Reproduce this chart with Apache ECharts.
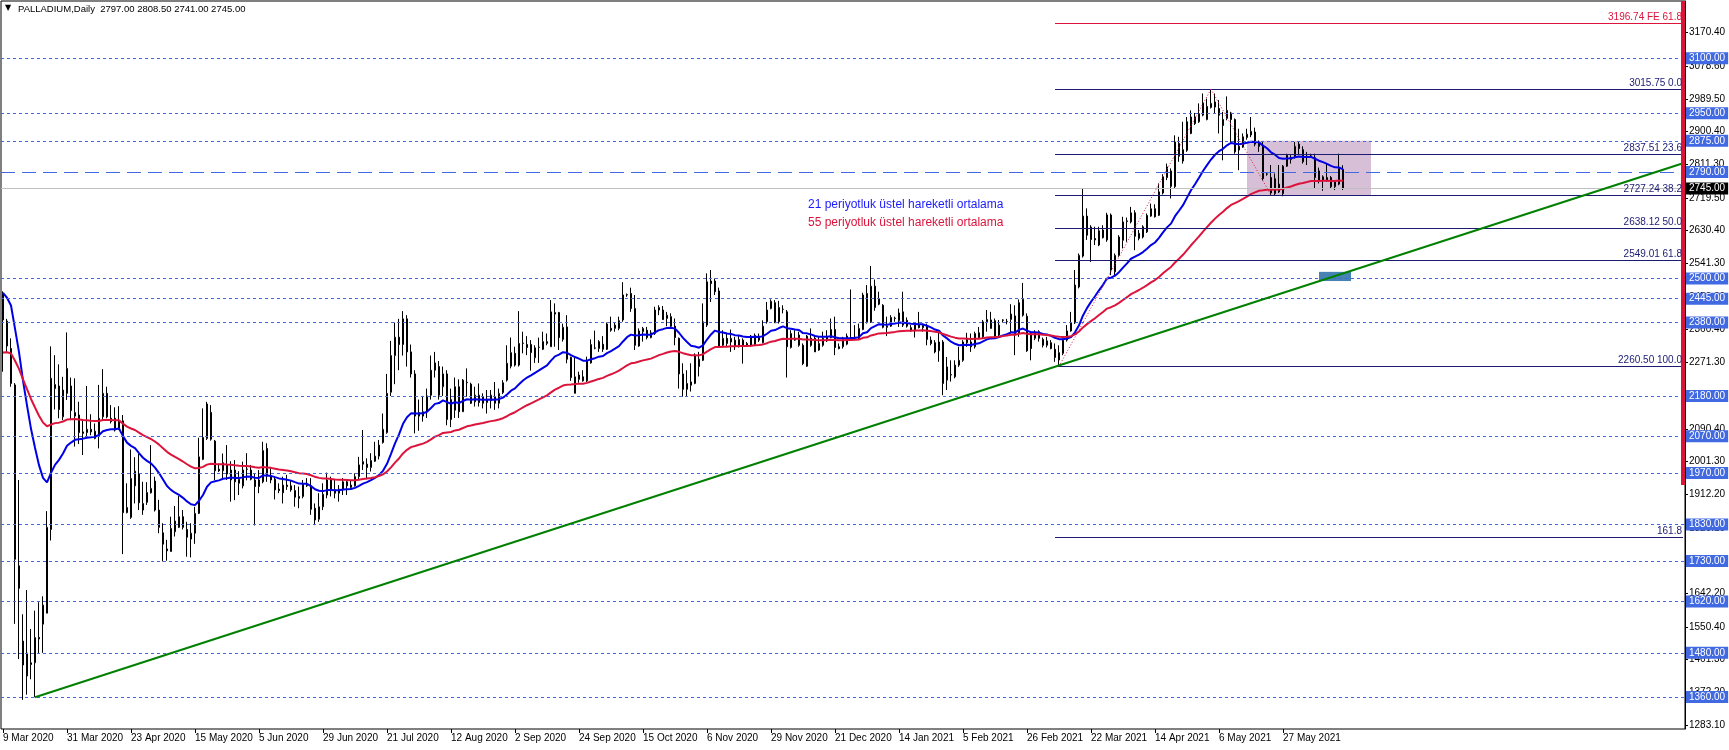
<!DOCTYPE html>
<html><head><meta charset="utf-8">
<script src="https://cdn.jsdelivr.net/npm/echarts@6/dist/echarts.min.js"></script>
<style>html,body{margin:0;padding:0;background:#fff}#c{width:1729px;height:750px}</style>
</head><body><div id="c"></div>
<script>
// ---------- DATA ----------
const dateLabels = ["9 Mar 2020","31 Mar 2020","23 Apr 2020","15 May 2020","5 Jun 2020","29 Jun 2020","21 Jul 2020","12 Aug 2020","2 Sep 2020","24 Sep 2020","15 Oct 2020","6 Nov 2020","29 Nov 2020","21 Dec 2020","14 Jan 2021","5 Feb 2021","26 Feb 2021","22 Mar 2021","14 Apr 2021","6 May 2021","27 May 2021"];
const opens = [2460,2384,2309,2210,1717,1512,1417,1448,1453,1522,1558,1588,1816,2200,2207,2123,2187,2207,2125,2128,
2082,2080,2089,2064,2073,2123,2187,2119,2119,2090,2112,1862,1849,1935,1967,1869,1890,1916,1948,1869,
1807,1763,1756,1810,1822,1851,1816,1790,1806,1860,2007,2064,2135,2057,1980,1976,1992,1951,1978,1942,
1935,1980,1978,1951,1933,1946,2037,1960,1953,1926,1916,1937,1935,1922,1906,1906,1935,1935,1874,1844,
1878,1910,1951,1924,1915,1924,1946,1937,1935,1960,1994,1994,1985,2002,2016,2053,2080,2190,2290,2340,
2320,2390,2300,2240,2125,2125,2137,2182,2250,2260,2205,2240,2170,2141,2205,2137,2216,2212,2164,2182,
2178,2162,2167,2178,2160,2189,2223,2261,2296,2264,2323,2320,2320,2284,2312,2307,2323,2314,2407,2407,
2334,2368,2285,2187,2225,2232,2221,2270,2310,2309,2321,2307,2364,2364,2364,2387,2455,2459,2418,2316,
2355,2359,2339,2350,2414,2414,2391,2396,2370,2337,2240,2198,2209,2214,2260,2277,2373,2493,2493,2466,
2318,2337,2327,2332,2314,2332,2316,2318,2320,2343,2325,2382,2418,2434,2382,2416,2409,2312,2332,2318,
2318,2261,2337,2337,2305,2318,2330,2339,2361,2314,2314,2321,2334,2339,2334,2361,2459,2382,2479,2445,
2427,2370,2370,2391,2385,2409,2386,2366,2357,2373,2366,2368,2332,2325,2303,2327,2223,2237,2232,2264,
2277,2337,2327,2314,2352,2341,2382,2387,2385,2346,2387,2382,2388,2398,2350,2443,2397,2350,2337,2355,
2334,2318,2325,2307,2278,2296,2332,2357,2379,2477,2561,2670,2640,2609,2591,2611,2605,2673,2518,2563,
2604,2655,2654,2679,2609,2613,2627,2670,2690,2672,2733,2804,2793,2750,2868,2820,2849,2895,2940,2927,
2945,2933,2966,2981,2963,2933,2936,2951,2933,2860,2858,2884,2891,2899,2866,2863,2784,2775,2731,2757,
2731,2806,2824,2830,2866,2851,2833,2833,2829,2793,2766,2775,2775,2750,2757,2797];
const highs = [2465,2390,2337,2215,1951,1585,1651,1545,1595,1618,1634,1866,2315,2291,2266,2232,2353,2230,2228,2164,
2114,2207,2130,2105,2210,2253,2205,2155,2149,2152,2128,1942,2034,2013,2022,1946,1945,2046,1960,1897,
1833,1788,1851,1880,1907,1869,1837,1833,1878,2066,2146,2164,2155,2060,1995,2023,2046,2002,2005,1975,
2001,2024,1992,1969,1978,2055,2051,1983,1960,1942,1960,1965,1951,1937,1933,1951,1956,1956,1887,1915,
1942,1971,1960,1951,1937,1956,1951,1951,1969,2014,2087,2010,2024,2055,2060,2132,2240,2330,2380,2390,
2411,2400,2320,2250,2170,2180,2200,2290,2300,2275,2260,2250,2200,2230,2225,2226,2255,2216,2205,2214,
2187,2196,2196,2218,2200,2223,2318,2339,2314,2411,2355,2343,2332,2318,2339,2355,2350,2441,2432,2409,
2377,2400,2287,2287,2246,2250,2287,2334,2358,2332,2343,2380,2396,2380,2396,2490,2459,2475,2455,2364,
2368,2368,2359,2423,2427,2425,2409,2405,2391,2339,2269,2250,2269,2296,2300,2432,2514,2523,2500,2475,
2359,2350,2361,2341,2343,2337,2327,2346,2350,2350,2386,2436,2443,2441,2439,2427,2414,2359,2359,2355,
2323,2346,2364,2343,2341,2355,2359,2391,2396,2323,2341,2350,2470,2373,2377,2461,2482,2534,2497,2464,
2430,2396,2400,2396,2418,2464,2394,2373,2377,2409,2377,2377,2342,2332,2352,2332,2286,2277,2277,2314,
2332,2352,2350,2355,2368,2387,2414,2409,2391,2387,2389,2390,2430,2427,2443,2488,2405,2355,2359,2359,
2339,2341,2332,2323,2318,2337,2373,2409,2523,2568,2745,2691,2645,2641,2641,2645,2679,2677,2568,2618,
2668,2666,2695,2686,2632,2645,2677,2704,2702,2759,2784,2813,2800,2890,2886,2927,2940,2958,2951,2977,
3004,2990,3015.75,3004,2986,2954,2996,2954,2936,2908,2895,2908,2940,2911,2876,2872,2790,2809,2786,2809,
2809,2840,2836,2872,2872,2860,2845,2840,2840,2802,2781,2813,2779,2768,2840,2808.5];
const lows = [2246,2300,2205,1559,1463,1352,1366,1408,1359,1479,1480,1588,1786,2143,2119,2114,2169,2114,2042,2049,
2019,2069,2073,2062,2037,2114,2119,2105,2083,2087,1749,1860,1845,1887,1869,1856,1883,1914,1865,1806,
1729,1731,1756,1797,1820,1816,1742,1740,1777,1858,2005,2060,2058,1951,1973,1951,1951,1892,1896,1910,
1928,1950,1950,1827,1915,1942,1946,1942,1898,1915,1887,1924,1919,1878,1874,1901,1932,1856,1828,1837,
1869,1901,1906,1901,1892,1910,1910,1924,1933,1951,1978,1953,1974,2000,2007,2050,2077,2180,2212,2250,
2290,2260,2230,2078,2085,2110,2120,2170,2230,2170,2180,2100,2095,2120,2120,2137,2178,2158,2151,2151,
2146,2132,2146,2142,2146,2185,2219,2255,2260,2260,2296,2291,2249,2270,2270,2305,2318,2314,2314,2305,
2328,2269,2221,2187,2216,2219,2218,2268,2307,2300,2300,2305,2355,2355,2359,2382,2450,2409,2305,2314,
2328,2334,2337,2346,2400,2387,2370,2368,2318,2200,2178,2180,2192,2212,2233,2275,2368,2436,2455,2314,
2312,2314,2300,2305,2312,2268,2314,2314,2318,2327,2323,2377,2416,2379,2377,2405,2230,2309,2330,2314,
2264,2259,2314,2300,2303,2314,2327,2337,2291,2307,2309,2318,2332,2332,2332,2359,2377,2379,2412,2427,
2364,2343,2368,2382,2368,2368,2366,2355,2339,2364,2355,2318,2318,2296,2273,2182,2196,2219,2228,2259,
2273,2314,2300,2309,2337,2337,2355,2364,2337,2341,2380,2375,2350,2291,2341,2396,2300,2277,2332,2328,
2312,2312,2307,2273,2260.5,2291,2328,2355,2376,2473,2557,2605,2545,2591,2588,2609,2600,2509,2509,2559,
2582,2600,2650,2577,2604,2609,2624,2668,2666,2670,2729,2768,2718,2745,2818,2813,2845,2893,2918,2924,
2942,2931,2963,2949,2895,2822,2931,2872,2840,2795,2856,2878,2885,2860,2845,2767,2780,2727,2727,2733,
2724,2804,2813,2827,2836,2813,2809,2829,2745,2759,2739,2763,2745,2741,2754,2741];
const closes = [2387,2316,2214,1735,1656,1447,1479,1453,1522,1518,1610,1822,2228,2211,2143,2196,2255,2140,2135,2080,
2078,2089,2082,2084,2119,2187,2123,2110,2087,2112,1862,1876,1955,1975,1889,1887,1917,1928,1869,1822,
1776,1758,1819,1839,1851,1822,1795,1806,1860,2014,2067,2158,2062,1976,1976,1998,1967,1978,1946,1953,
1978,1981,1953,1933,1951,2031,1962,1951,1924,1922,1937,1933,1924,1904,1901,1940,1936,1871,1842,1878,
1912,1951,1924,1915,1926,1946,1935,1931,1960,1992,2001,1985,2004,2016,2046,2089,2187,2290,2340,2320,
2390,2300,2240,2125,2135,2137,2180,2250,2270,2182,2240,2116,2116,2205,2137,2223,2217,2160,2182,2162,
2160,2171,2182,2160,2187,2216,2269,2298,2264,2323,2324,2312,2298,2311,2313,2328,2328,2409,2403,2339,
2367,2280,2230,2232,2237,2221,2276,2320,2311,2328,2307,2376,2359,2373,2385,2455,2456,2418,2318,2357,
2364,2339,2352,2414,2421,2388,2400,2370,2339,2240,2198,2214,2218,2291,2280,2382,2491,2486,2464,2316,
2337,2323,2337,2314,2334,2318,2323,2343,2345,2332,2370,2414,2438,2379,2421,2416,2314,2350,2337,2346,
2268,2343,2318,2300,2323,2337,2341,2361,2312,2309,2334,2343,2339,2340,2364,2455,2382,2479,2421,2430,
2367,2367,2394,2392,2406,2373,2370,2357,2373,2366,2372,2334,2323,2300,2327,2214,2259,2238,2264,2277,
2327,2325,2314,2350,2339,2382,2388,2364,2343,2373,2386,2383,2403,2346,2434,2400,2303,2309,2352,2337,
2318,2330,2309,2285,2298,2332,2357,2379,2482,2563,2670,2618,2606,2605,2630,2632,2673,2523,2563,2613,
2654,2657,2679,2615,2623,2641,2672,2690,2668,2736,2777,2775,2751,2872,2833,2851,2927,2940,2922,2949,
2978,2969,2977,2967,2945,2917,2958,2933,2845,2850,2886,2893,2901,2866,2860,2772,2785,2733,2772,2736,
2806,2836,2830,2860,2854,2818,2830,2834,2775,2768,2777,2768,2750,2763,2800,2745];
const totalSlots = 421;                 // bars + empty space to the right
const ema21Prior = 2468, ema55Prior = 2295;   // indicator values just before the first bar
const levelPrices = [3100, 2950, 2875, 2500, 2445, 2380, 2180, 2070, 1970, 1830, 1730, 1620, 1480, 1360];
const longDashLevel = 2790;
const bidPrice = 2745;
const fibPrices = [3015.75, 2837.51, 2727.24, 2638.12, 2549.01, 2260.50, 1793.73];
const fibRatios = ["0.0", "23.6", "38.2", "50.0", "61.8", "100.0", "161.8"];
const fibStartBar = 263, fibEndBar = 420;
const feLevel = 3196.74, feRatio = "FE 61.8";
const fePath = [[264, 2260.5], [302, 3015.75], [317, 2727.24]];
const trendPoints = [[8, 1359], [420, 2814]];
const boxRange = {x: [311, 342], y: [2727.24, 2875]};
const smallBox = {x: [329, 337], y: [2493, 2518]};
const redBar = {x: 420, y: [1937, 3256]};
const priceTicks = [3170.40, 3078.60, 2989.50, 2900.40, 2811.30, 2719.50, 2630.40, 2541.30, 2450.20, 2360.40, 2271.30, 2180.20, 2090.40, 2001.30, 1912.20, 1820.10, 1731.00, 1642.20, 1550.40, 1461.30, 1372.20, 1283.10];

// ---------- BUILD ----------
function ema(src, period, prior) {
  const k = 2 / (period + 1); let e = prior;
  return src.map(c => { e = e + k * (c - e); return +e.toFixed(2); });
}
const cats = Array.from({length: totalSlots}, (_, i) => String(i));
const candles = opens.map((o, i) => [o, closes[i], lows[i], highs[i]]);
const ema21 = ema(closes, 21, ema21Prior);
const ema55 = ema(closes, 55, ema55Prior);
const labelEvery = 16;
const showDateTick = idx => idx % labelEvery === 0 && idx / labelEvery < dateLabels.length;

const FONT = 'Liberation Sans';
const BLUE = '#4169e1';
const NAVY = '#1b1b72';
const boxLabel = (txt, bg) => ({show: true, position: 'end', distance: 1, formatter: txt, color: '#fff', backgroundColor: bg,
  padding: [0, 3, 0, 3], fontSize: 10, fontFamily: FONT, lineHeight: 12});

const mlData = [];
levelPrices.forEach(p => mlData.push({
  yAxis: p, lineStyle: {color: BLUE, type: [3, 3], width: 1}, label: boxLabel(p.toFixed(2), BLUE)
}));
mlData.push({yAxis: longDashLevel, lineStyle: {color: BLUE, type: [14, 7], width: 1}, label: boxLabel(longDashLevel.toFixed(2), BLUE)});
mlData.push({yAxis: bidPrice, lineStyle: {color: '#c0c0c0', type: 'solid', width: 1}, label: boxLabel(bidPrice.toFixed(2), '#000')});
fibPrices.forEach((p, i) => mlData.push([
  {coord: [fibStartBar, p], lineStyle: {color: NAVY, type: 'solid', width: 1},
   label: {show: true, position: 'insideEndTop', distance: 1, color: NAVY, fontSize: 10, fontFamily: FONT,
           formatter: fibRatios[i] === '161.8' ? fibRatios[i] : p.toFixed(2) + ' ' + fibRatios[i]}},
  {coord: [fibEndBar, p]}
]));
mlData.push([
  {coord: [fibStartBar, feLevel], lineStyle: {color: '#dc143c', type: 'solid', width: 1},
   label: {show: true, position: 'insideEndTop', distance: 1, color: '#dc143c', fontSize: 10, fontFamily: FONT,
           formatter: feLevel.toFixed(2) + ' ' + feRatio}},
  {coord: [fibEndBar, feLevel]}
]);
for (let i = 0; i < fePath.length - 1; i++) {
  mlData.push([
    {coord: fePath[i], lineStyle: {color: '#dc143c', type: [1, 2], width: 1}, label: {show: false}},
    {coord: fePath[i + 1]}
  ]);
}
mlData.push([
  {coord: trendPoints[0], lineStyle: {color: '#008000', type: 'solid', width: 2}, label: {show: false}},
  {coord: trendPoints[1]}
]);
mlData.push([
  {coord: [redBar.x, redBar.y[1]], lineStyle: {color: '#dc143c', type: 'solid', width: 4}, label: {show: false}},
  {coord: [redBar.x, redBar.y[0]]}
]);

const option = {
  animation: false,
  backgroundColor: '#fff',
  grid: {left: 1, top: 1, width: 1684, height: 728, show: true, borderColor: '#000', borderWidth: 1, backgroundColor: '#fff'},
  xAxis: {
    type: 'category', data: cats, boundaryGap: true,
    axisLine: {show: false},
    axisTick: {show: true, interval: showDateTick, length: 4, alignWithLabel: true, lineStyle: {color: '#000'}},
    axisLabel: {interval: showDateTick, align: 'left', margin: 4, color: '#000', fontSize: 10, fontFamily: FONT,
      formatter: (v, idx) => dateLabels[idx / labelEvery] || ''},
    splitLine: {show: false}
  },
  yAxis: {
    type: 'value', position: 'right', min: 1272.5, max: 3256, scale: true,
    axisLine: {show: true, lineStyle: {color: '#000'}},
    axisTick: {show: true, length: 3, customValues: priceTicks, lineStyle: {color: '#000'}},
    axisLabel: {customValues: priceTicks, formatter: v => v.toFixed(2), margin: 4, color: '#000', fontSize: 10, fontFamily: FONT},
    splitLine: {show: false}
  },
  series: [
    {
      name: 'PALLADIUM', type: 'candlestick', data: candles, barWidth: 2, z: 3,
      itemStyle: {color: '#fff', color0: '#000', borderColor: '#000', borderColor0: '#000', borderWidth: 1},
      markArea: {
        silent: true,
        data: [
          [{coord: [boxRange.x[0], boxRange.y[1]], itemStyle: {color: 'rgb(216,191,216)'}}, {coord: [boxRange.x[1], boxRange.y[0]]}],
          [{coord: [smallBox.x[0], smallBox.y[1]], itemStyle: {color: '#4682b4'}}, {coord: [smallBox.x[1], smallBox.y[0]]}]
        ]
      },
      markLine: {silent: true, symbol: 'none', precision: 2, data: mlData}
    },
    {name: 'EMA21', type: 'line', data: ema21, showSymbol: false, symbol: 'none', z: 4,
     lineStyle: {color: '#0000e6', width: 2}},
    {name: 'EMA55', type: 'line', data: ema55, showSymbol: false, symbol: 'none', z: 4,
     lineStyle: {color: '#dc143c', width: 2}}
  ],
  graphic: [
    {type: 'text', left: 5, top: 4, style: {text: '▼', fontSize: 8, fill: '#000', fontFamily: 'DejaVu Sans'}},
    {type: 'text', left: 18, top: 4, style: {text: 'PALLADIUM,Daily  2797.00 2808.50 2741.00 2745.00', fontSize: 9.5, fill: '#000', fontFamily: FONT}},
    {type: 'text', left: 808, top: 199, style: {text: '21 periyotluk üstel hareketli ortalama', fontSize: 12, fill: '#1a1aff', fontFamily: FONT}},
    {type: 'text', left: 808, top: 217, style: {text: '55 periyotluk üstel hareketli ortalama', fontSize: 12, fill: '#dc143c', fontFamily: FONT}}
  ]
};
const chart = echarts.init(document.getElementById('c'), null, {renderer: 'canvas'});
chart.setOption(option);
</script></body></html>
